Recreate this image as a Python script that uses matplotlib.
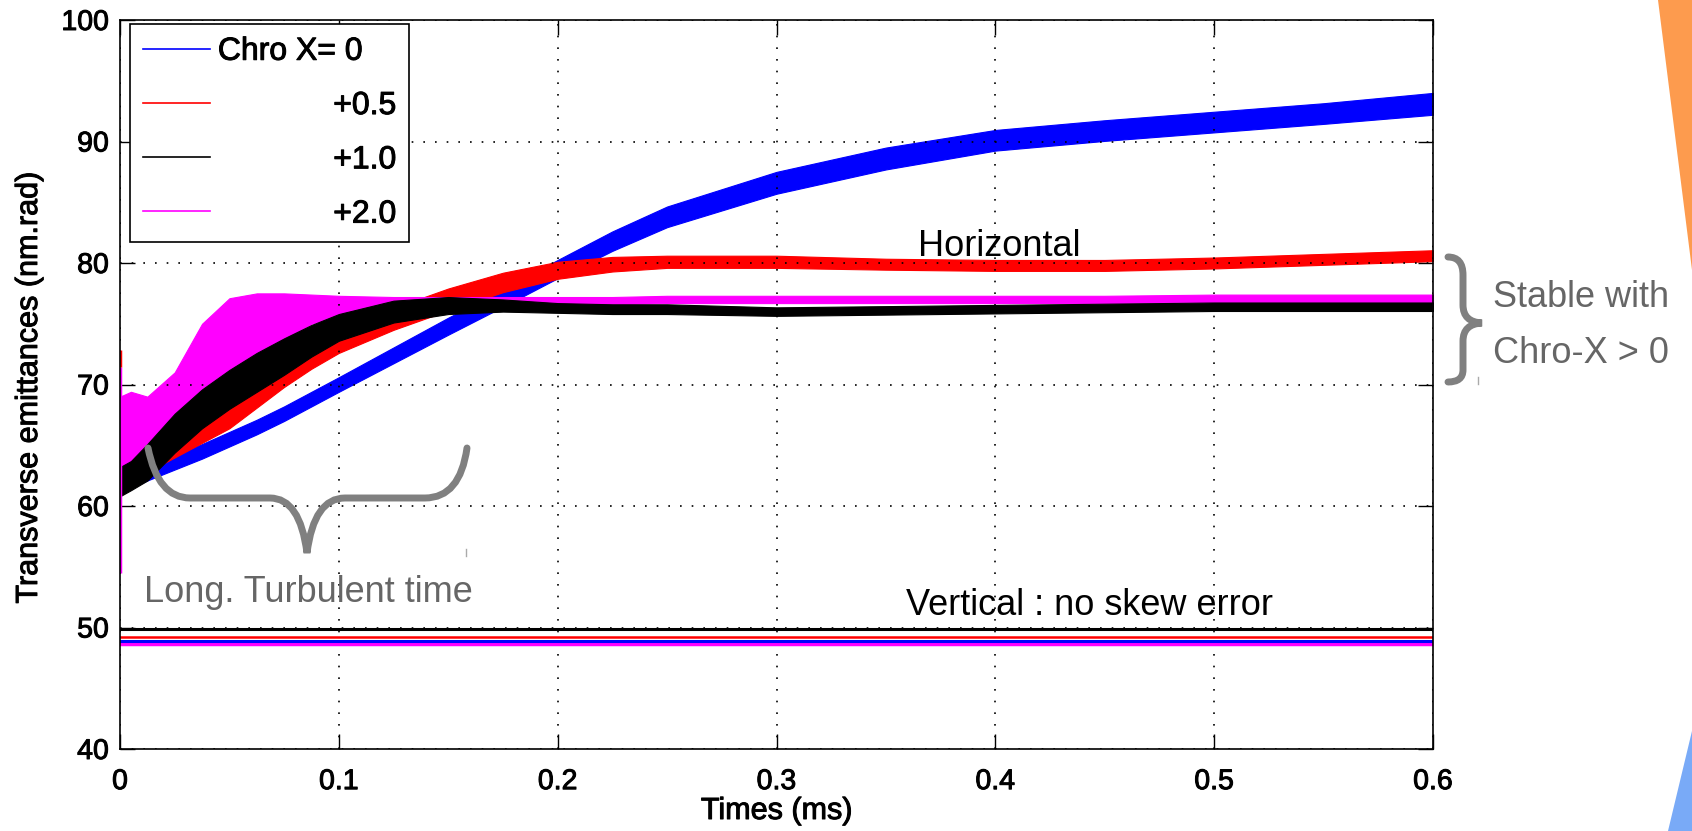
import matplotlib.pyplot as plt
import matplotlib.patheffects as pe
from matplotlib.path import Path
from matplotlib.patches import PathPatch, Polygon

plt.rcParams['font.family'] = ['Liberation Sans', 'DejaVu Sans']

W, H = 1692, 831

# time axis (ms), shared by the horizontal emittance bands
times = [0.0, 0.005, 0.0125, 0.025, 0.0375, 0.05, 0.0625, 0.075, 0.0875, 0.1,
         0.125, 0.15, 0.175, 0.2, 0.225, 0.25, 0.3, 0.35, 0.4, 0.45, 0.5, 0.55, 0.6]

# horizontal emittance: centre of the oscillating band and its half spread
h_chro0 = [62.0, 62.3, 62.8, 63.6, 64.5, 65.5, 66.5, 67.6, 68.8, 70.0,
           72.4, 74.8, 77.1, 79.5, 81.8, 83.8, 86.6, 88.6, 90.1, 90.9, 91.6, 92.3, 93.1]
h_chro0_sp = [0.9, 0.8, 0.7, 0.6, 0.6, 0.6, 0.6, 0.6, 0.6, 0.6,
              0.65, 0.7, 0.7, 0.75, 0.8, 0.85, 0.9, 0.9, 0.85, 0.85, 0.85, 0.85, 0.9]
h_chro05 = [62.5, 63.0, 63.8, 65.0, 66.2, 67.4, 69.1, 70.8, 72.3, 73.6,
            75.4, 77.0, 78.4, 79.4, 79.9, 80.1, 80.1, 79.9, 79.8, 79.8, 80.0, 80.3, 80.6]
h_chro05_sp = [1.2, 1.0, 1.0, 1.0, 1.0, 1.0, 1.0, 1.0, 1.0, 1.0,
               0.9, 0.9, 0.8, 0.7, 0.6, 0.5, 0.5, 0.45, 0.45, 0.45, 0.45, 0.45, 0.45]
h_chro1 = [62.0, 62.5, 63.6, 66.0, 68.0, 69.6, 71.0, 72.3, 73.6, 74.7,
           76.0, 76.5, 76.5, 76.3, 76.2, 76.2, 76.0, 76.1, 76.2, 76.3, 76.4, 76.4, 76.4]
h_chro1_sp = [1.2, 1.2, 1.5, 1.6, 1.6, 1.6, 1.6, 1.5, 1.3, 1.1,
              0.9, 0.7, 0.5, 0.4, 0.4, 0.4, 0.35, 0.35, 0.35, 0.35, 0.35, 0.35, 0.35]
h_chro2 = [66.0, 66.2, 66.2, 68.2, 71.5, 73.3, 74.5, 75.5, 76.2, 76.5,
           76.7, 76.8, 76.9, 76.9, 76.9, 77.0, 77.0, 77.0, 77.0, 77.0, 77.1, 77.1, 77.1]
h_chro2_sp = [3.0, 3.2, 2.8, 2.8, 3.5, 3.8, 3.0, 2.0, 1.2, 0.8,
              0.5, 0.4, 0.3, 0.3, 0.3, 0.3, 0.3, 0.3, 0.3, 0.3, 0.3, 0.3, 0.3]

# initial transients at t = 0 (low, high)
spike_chro05 = [71.4, 72.8]
spike_chro2 = [54.5, 71.4]

# vertical emittance: flat lines
v_times = [0.0, 0.6]
v_chro0 = [48.9, 48.9]
v_chro05 = [49.2, 49.2]
v_chro1 = [49.9, 49.9]
v_chro2 = [48.65, 48.65]

labels = ['Chro X= 0', '             +0.5', '             +1.0', '             +2.0']
colors = ['#0000ff', '#ff0000', '#000000', '#ff00ff']

x_ticks = [0, 0.1, 0.2, 0.3, 0.4, 0.5, 0.6]
x_ticklabels = ['0', '0.1', '0.2', '0.3', '0.4', '0.5', '0.6']
y_ticks = [40, 50, 60, 70, 80, 90, 100]


def fx(x, y):
    return x / W, 1 - y / H


fig = plt.figure(figsize=(W / 100, H / 100), dpi=100)
ax = fig.add_axes([120 / W, 1 - 749 / H, 1313 / W, 729 / H])

bands = [(h_chro0, h_chro0_sp, colors[0]), (h_chro05, h_chro05_sp, colors[1]),
         (h_chro2, h_chro2_sp, colors[3]), (h_chro1, h_chro1_sp, colors[2])]
for c, s, col in bands:
    lo = [a - b for a, b in zip(c, s)]
    hi = [a + b for a, b in zip(c, s)]
    ax.fill_between(times, lo, hi, color=col, lw=0.8, edgecolor=col)

ax.vlines([0, 0], [spike_chro2[0], spike_chro05[0]], [spike_chro2[1], spike_chro05[1]],
          colors=[colors[3], colors[1]], lw=2.5)

l2, = ax.plot(v_times, v_chro2, color=colors[3], lw=2.5)
l0, = ax.plot(v_times, v_chro0, color=colors[0], lw=2.2)
l05, = ax.plot(v_times, v_chro05, color=colors[1], lw=1.8)
l1, = ax.plot(v_times, v_chro1, color=colors[2], lw=2.2)

ax.set_xlim(0, 0.6)
ax.set_ylim(40, 100)
ax.set_xticks(x_ticks)
ax.set_xticklabels(x_ticklabels)
ax.set_yticks(y_ticks)
ax.grid(True, linestyle=(0, (1, 6)), color='black', linewidth=1.2)
ax.tick_params(direction='in', length=11, width=1, top=True, right=True, labelsize=20.5)
ax.tick_params(axis='x', pad=14.5)
ax.tick_params(axis='y', pad=8)
for sp in ax.spines.values():
    sp.set_linewidth(1.2)

ax.set_xlabel('Times (ms)', fontsize=22, va='baseline')
ax.xaxis.set_label_coords(0.5, -(819 - 749) / 729)
ax.set_ylabel('Transverse emittances (nm.rad)', fontsize=22, va='center')
ax.yaxis.set_label_coords(-(120 - 29) / 1313, (749 - 388) / 729)

leg = ax.legend([l0, l05, l1, l2], labels, loc='upper left',
                bbox_to_anchor=(10 / 1313, 1 - 4 / 729), borderaxespad=0,
                fontsize=23, fancybox=False, framealpha=1, edgecolor='black',
                handlelength=2.1, handletextpad=0.25, labelspacing=0.76, borderpad=0.4)
leg.get_frame().set_linewidth(1.2)
for h in leg.get_lines():
    h.set_linewidth(1.2)

# the old figure text is a little heavier than plain Liberation Sans
heavy = [pe.withStroke(linewidth=0.7, foreground='black')]
for t in (ax.get_xticklabels() + ax.get_yticklabels() + leg.get_texts()
          + [ax.xaxis.label, ax.yaxis.label]):
    t.set_path_effects(heavy)

# annotations
fig.text(*fx(918, 256), 'Horizontal', fontsize=26, va='baseline')
fig.text(*fx(906, 615), 'Vertical : no skew error', fontsize=26, va='baseline')
grey = '#666666'
fig.text(*fx(144, 602), 'Long. Turbulent time', fontsize=26, va='baseline', color=grey)
fig.text(*fx(1493, 307), 'Stable with', fontsize=26, va='baseline', color=grey)
fig.text(*fx(1493, 363), 'Chro-X > 0', fontsize=26, va='baseline', color=grey)

# braces
C3, L2, M = Path.CURVE3, Path.LINETO, Path.MOVETO
bottom = [(148, 448), (158, 498), (190, 498), (270, 498), (300, 498), (307, 553),
          (314, 498), (345, 498), (425, 498), (460, 498), (467, 448)]
bottom_codes = [M, C3, C3, L2, C3, C3, C3, C3, L2, C3, C3]
right = [(1448, 257), (1463, 257), (1463, 275), (1463, 305), (1463, 322), (1482, 323),
         (1463, 324), (1463, 341), (1463, 370), (1463, 382), (1448, 382)]
right_codes = [M, C3, C3, L2, C3, C3, C3, C3, L2, C3, C3]
for pts, codes in [(bottom, bottom_codes), (right, right_codes)]:
    p = Path([fx(x, y) for x, y in pts], codes)
    fig.add_artist(PathPatch(p, transform=fig.transFigure, fill=False,
                             edgecolor='#808080', lw=5, capstyle='round'))
for x, y0, y1 in [(466, 549, 556), (1478, 377, 384)]:
    fig.add_artist(plt.Line2D([x / W, x / W], [1 - y0 / H, 1 - y1 / H],
                              transform=fig.transFigure, color='#aaaaaa', lw=1))

# slide decorations at the right edge
fig.add_artist(Polygon([fx(1658, 0), fx(1692, 0), fx(1692, 270)], closed=True,
                       transform=fig.transFigure, color='#fd9b4e', lw=0))
fig.add_artist(Polygon([fx(1692, 731), fx(1668, 831), fx(1692, 831)], closed=True,
                       transform=fig.transFigure, color='#79aaf7', lw=0))

fig.savefig('out.png', dpi=100)
